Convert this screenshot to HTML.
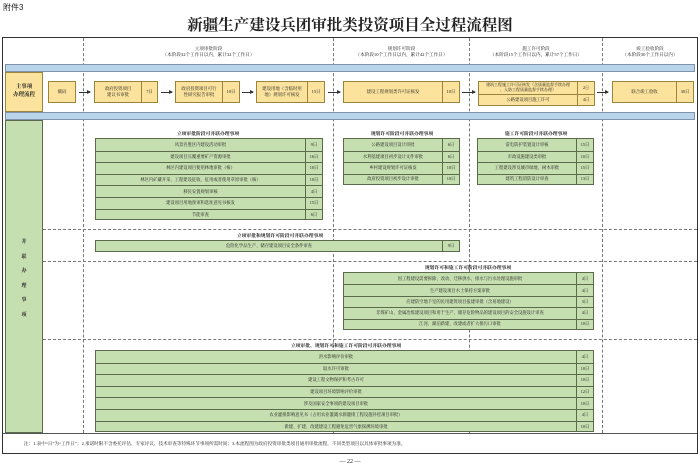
<!DOCTYPE html>
<html><head><meta charset="utf-8"><style>
*{margin:0;padding:0;box-sizing:border-box}
body{width:700px;height:469px;background:#fff;position:relative;overflow:hidden;font-family:"Liberation Serif","Noto Serif CJK SC","Noto Sans CJK SC",serif;color:#222}
.a{position:absolute}
.t{font-size:4.6px;text-align:center;line-height:1.2;white-space:nowrap}
.y{position:absolute;background:#fbe39d;border:1px solid #9a8540;display:flex;align-items:center}
.y .m{flex:1;text-align:center;font-size:4.4px;line-height:1.35}
.y .d{border-left:1px solid #9a8540;height:100%;display:flex;align-items:center;justify-content:center;font-size:4.4px}
.tb{position:absolute;border:1px solid #5d6b4d;background:#c6dfb0}
.tb .r{display:flex;border-top:1px solid #5d6b4d;font-size:4.3px;align-items:center;white-space:nowrap}
.tb .r:first-child{border-top:none}
.tb .r .m{flex:1;text-align:center;overflow:hidden}
.tb .r .d{width:17px;border-left:1px solid #5d6b4d;text-align:center;height:100%;display:flex;align-items:center;justify-content:center}
.vd{position:absolute;width:0;border-left:1px dashed #777}
.hd{position:absolute;height:0;border-top:1px dashed #777}
.ar{position:absolute;height:0;border-top:1px solid #333}
.ar:after{content:"";position:absolute;right:-1px;top:-3px;border-left:4px solid #333;border-top:2.5px solid transparent;border-bottom:2.5px solid transparent}
.gt{position:absolute;font-size:4.8px;font-weight:bold;white-space:nowrap;transform:translateX(-50%)}
</style></head><body>
<div class="a" style="left:3px;top:2px;font-size:8px;font-family:'Liberation Sans','Noto Sans CJK SC',sans-serif">附件3</div>
<div class="a" style="left:0;width:700px;top:13px;text-align:center;font-size:15.5px;font-weight:bold;font-family:'Liberation Serif','Noto Serif CJK SC',serif">新疆生产建设兵团审批类投资项目全过程流程图</div>

<div class="a" style="left:2px;top:37px;width:696px;height:417px;border:1.5px solid #333"></div>
<div class="a" style="left:3px;top:433px;width:694px;border-top:1px solid #555"></div>

<!-- vertical dashed -->
<div class="vd" style="left:83px;top:38px;height:395px"></div>
<div class="vd" style="left:333px;top:38px;height:395px"></div>
<div class="vd" style="left:469px;top:38px;height:395px"></div>
<div class="vd" style="left:602px;top:38px;height:395px"></div>
<!-- horizontal dashed -->
<div class="hd" style="left:43px;top:229px;width:654px"></div>
<div class="hd" style="left:43px;top:261px;width:654px"></div>
<div class="hd" style="left:43px;top:339px;width:654px"></div>

<!-- phase headers -->
<div class="a t" style="left:84px;width:249px;top:46px">立项审批阶段<br>（本阶段32个工作日以内，累计32个工作日）</div>
<div class="a t" style="left:334px;width:135px;top:46px">规划许可阶段<br>（本阶段10个工作日以内，累计42个工作日）</div>
<div class="a t" style="left:470px;width:132px;top:46px">施工许可阶段<br>（本阶段15个工作日以内，累计57个工作日）</div>
<div class="a t" style="left:603px;width:94px;top:46px">竣工验收阶段<br>（本阶段30个工作日以内）</div>

<!-- blue bands -->
<div class="a" style="left:5px;top:64px;width:690px;height:8px;background:#b9d3ea;border:1px solid #7f93aa"></div>
<div class="a" style="left:5px;top:112px;width:690px;height:8px;background:#b9d3ea;border:1px solid #7f93aa"></div>

<!-- left labels -->
<div class="a" style="left:5px;top:72px;width:38px;height:40px;background:#fbe39d;border:1px solid #9a8540;display:flex;align-items:center;justify-content:center;text-align:center;font-size:5.5px;font-weight:bold;line-height:1.4">主事项<br>办理流程</div>
<div class="a" style="left:5px;top:120px;width:38px;height:313px;background:#c6dfb0;border:1px solid #5d6b4d"></div>
<div class="a" style="left:5px;top:236px;width:38px;text-align:center;font-size:5px;font-weight:bold;line-height:14.5px">并<br>联<br>办<br>理<br>事<br>项</div>

<!-- main flow -->
<div class="y" style="left:48px;top:81px;width:28px;height:22px"><div class="m">赋码</div></div>
<div class="ar" style="left:79px;top:92px;width:11px"></div>
<div class="y" style="left:94px;top:81px;width:64px;height:22px"><div class="m">政府投资项目<br>建议书审批</div><div class="d" style="width:16px">7日</div></div>
<div class="ar" style="left:161px;top:92px;width:11px"></div>
<div class="y" style="left:175px;top:81px;width:65px;height:22px"><div class="m">政府投资项目可行<br>性研究报告审批</div><div class="d" style="width:17px">10日</div></div>
<div class="ar" style="left:242px;top:92px;width:11px"></div>
<div class="y" style="left:256px;top:81px;width:69px;height:22px"><div class="m">建设用地（含临时用<br>地）规划许可核发</div><div class="d" style="width:17px">15日</div></div>
<div class="ar" style="left:328px;top:92px;width:12px"></div>
<div class="y" style="left:343px;top:81px;width:117px;height:22px"><div class="m">建设工程规划类许可证核发</div><div class="d" style="width:17px">10日</div></div>
<div class="ar" style="left:462px;top:92px;width:13px"></div>
<div class="a" style="left:478px;top:81px;width:117px;height:25px;background:#fbe39d;border:1px solid #9a8540">
 <div style="display:flex;height:13px;border-bottom:1px solid #9a8540;font-size:4px;align-items:center"><div style="flex:1;text-align:center;line-height:1.2">建筑工程施工许可证核发（含质量监督手续办理<br>、人防工程质量监督手续办理）</div><div style="width:17px;border-left:1px solid #9a8540;height:100%;display:flex;align-items:center;justify-content:center">2日</div></div>
 <div style="display:flex;height:10px;font-size:4.3px;align-items:center"><div style="flex:1;text-align:center">公路建设项目施工许可</div><div style="width:17px;border-left:1px solid #9a8540;height:100%;display:flex;align-items:center;justify-content:center">4日</div></div>
</div>
<div class="ar" style="left:597px;top:92px;width:11px"></div>
<div class="y" style="left:612px;top:81px;width:82px;height:22px"><div class="m">联合竣工验收</div><div class="d" style="width:17px">30日</div></div>

<!-- group 1 -->
<div class="gt" style="left:208px;top:130px">立项审批阶段可并联办理事项</div>
<div class="tb" style="left:95px;top:138px;width:228px;height:82px">
<div class="r" style="height:11.6px"><div class="m">风景名胜区内建设活动审批</div><div class="d">9日</div></div>
<div class="r" style="height:11.6px"><div class="m">建设项目压覆重要矿产资源审批</div><div class="d">16日</div></div>
<div class="r" style="height:11.6px"><div class="m">林区内建设项目使用林地审批（核）</div><div class="d">10日</div></div>
<div class="r" style="height:11.6px"><div class="m">林区内矿藏开采、工程建设征收、征用或者使用草原审批（核）</div><div class="d">10日</div></div>
<div class="r" style="height:11.6px"><div class="m">移民安置规划审核</div><div class="d">4日</div></div>
<div class="r" style="height:11.6px"><div class="m">建设项目用地预审和选址意见书核发</div><div class="d">15日</div></div>
<div class="r" style="height:11px"><div class="m">节能审查</div><div class="d">6日</div></div>
</div>

<!-- group 2 -->
<div class="gt" style="left:402px;top:130px">规划许可阶段可并联办理事项</div>
<div class="tb" style="left:343px;top:138px;width:117px;height:47px">
<div class="r" style="height:11.5px"><div class="m">公路建设项目设计审批</div><div class="d">6日</div></div>
<div class="r" style="height:11.5px"><div class="m">水利基建项目初步设计文件审批</div><div class="d">6日</div></div>
<div class="r" style="height:11.5px"><div class="m">乡村建设规划许可证核发</div><div class="d">10日</div></div>
<div class="r" style="height:10.5px"><div class="m">政府投资项目初步设计审批</div><div class="d">10日</div></div>
</div>

<!-- group 3 -->
<div class="gt" style="left:536px;top:130px">施工许可阶段可并联办理事项</div>
<div class="tb" style="left:477px;top:138px;width:117px;height:47px">
<div class="r" style="height:11.5px"><div class="m">雷电防护装置设计审核</div><div class="d">15日</div></div>
<div class="r" style="height:11.5px"><div class="m">市政设施建设类审批</div><div class="d">10日</div></div>
<div class="r" style="height:11.5px"><div class="m">工程建设涉及城市绿地、树木审批</div><div class="d">15日</div></div>
<div class="r" style="height:10.5px"><div class="m">建筑工程消防设计审查</div><div class="d">13日</div></div>
</div>

<!-- group 4 -->
<div class="gt" style="left:280px;top:232px">立项审批和规划许可阶段可并联办理事项</div>
<div class="tb" style="left:95px;top:240px;width:365px;height:12px">
<div class="r" style="height:10px"><div class="m">危险化学品生产、储存建设项目安全条件审查</div><div class="d">9日</div></div>
</div>

<!-- group 5 -->
<div class="gt" style="left:468px;top:264px">规划许可和施工许可阶段可并联办理事项</div>
<div class="tb" style="left:343px;top:272px;width:251px;height:58px">
<div class="r" style="height:11.4px"><div class="m">因工程建设需要拆除、改动、迁移供水、排水与污水处理设施审批</div><div class="d">4日</div></div>
<div class="r" style="height:11.4px"><div class="m">生产建设项目水土保持方案审批</div><div class="d">4日</div></div>
<div class="r" style="height:11.4px"><div class="m">应建防空地下室的民用建筑项目报建审批（含易地建设）</div><div class="d">3日</div></div>
<div class="r" style="height:11.4px"><div class="m">非煤矿山、金属冶炼建设项目和用于生产、储存危险物品的建设项目的安全设施设计审查</div><div class="d">4日</div></div>
<div class="r" style="height:10.4px"><div class="m">江河、湖泊新建、改建或者扩大排污口审批</div><div class="d">10日</div></div>
</div>

<!-- group 6 -->
<div class="gt" style="left:346px;top:342px">立项审批、规划许可和施工许可阶段可并联办理事项</div>
<div class="tb" style="left:95px;top:350px;width:499px;height:82px">
<div class="r" style="height:11.6px"><div class="m">洪水影响评价审批</div><div class="d">4日</div></div>
<div class="r" style="height:11.6px"><div class="m">取水许可审批</div><div class="d">10日</div></div>
<div class="r" style="height:11.6px"><div class="m">建设工程文物保护和考古许可</div><div class="d">10日</div></div>
<div class="r" style="height:11.6px"><div class="m">建设项目环境影响评价审批</div><div class="d">12日</div></div>
<div class="r" style="height:11.6px"><div class="m">涉及国家安全事项的建设项目审批</div><div class="d">10日</div></div>
<div class="r" style="height:11.6px"><div class="m">农业灌排影响意见书（占用农业灌溉水源灌排工程设施补偿项目审批）</div><div class="d">4日</div></div>
<div class="r" style="height:11px"><div class="m">新建、扩建、改建建设工程避免危害气象探测环境审批</div><div class="d">10日</div></div>
</div>

<div class="a" style="left:24px;top:441px;font-size:4.6px;white-space:nowrap">注：1.表中“日”为“工作日”；2.承诺时限不含委托评估、专家评议、技术审查等特殊环节事项所需时间；3.本流程图为政府投资审批类项目通用审批流程，不同类型项目以具体审批事项为准。</div>
<div class="a" style="left:0;width:700px;top:459px;text-align:center;font-size:6px">— 22 —</div>
</body></html>
